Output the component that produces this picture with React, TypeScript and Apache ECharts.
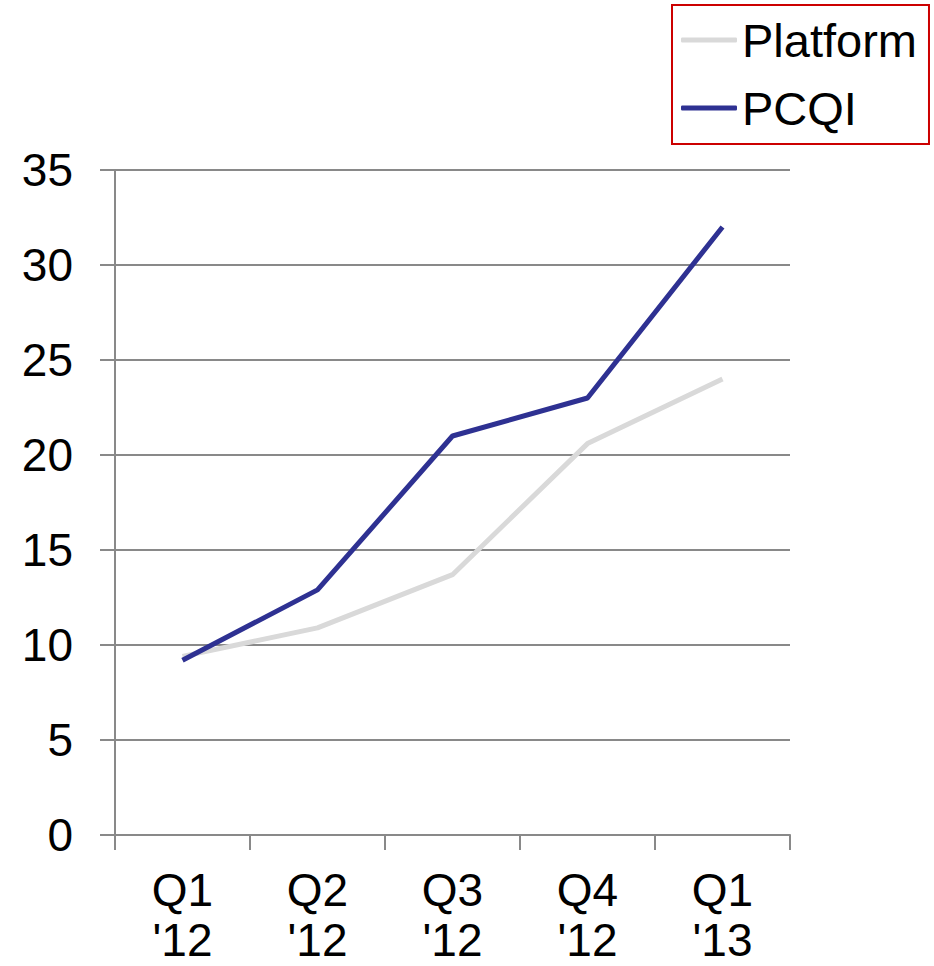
import React, { useEffect, useRef } from "react";
import * as echarts from "echarts";

const categories = ["Q1\n'12", "Q2\n'12", "Q3\n'12", "Q4\n'12", "Q1\n'13"];
const platform = [9.4, 10.9, 13.7, 20.6, 24];
const pcqi = [9.2, 12.9, 21, 23, 32];

export default function App() {
  const ref = useRef<HTMLDivElement>(null);
  useEffect(() => {
    const chart = echarts.init(ref.current!, null, { renderer: "svg" });
    const font = "Liberation Sans, Arial, sans-serif";
    chart.setOption({
      animation: false,
      textStyle: { fontFamily: font },
      grid: { left: 115, right: 144, top: 170, bottom: 131, containLabel: false, outerBoundsMode: "none" },
      legend: {
        orient: "vertical",
        left: 672,
        top: 5,
        borderColor: "#cc0000",
        borderWidth: 2,
        padding: [9, 12, 10, 9],
        itemGap: 16,
        itemWidth: 56,
        itemHeight: 5,
        icon: "roundRect",
        textStyle: { fontSize: 47, color: "#000", fontFamily: font, lineHeight: 52 },
        data: ["Platform", "PCQI"],
      },
      xAxis: {
        type: "category",
        data: categories,
        boundaryGap: true,
        axisLine: { lineStyle: { color: "#898989", width: 2 } },
        axisTick: { show: true, interval: 0, length: 15, lineStyle: { color: "#898989", width: 2 } },
        axisLabel: { fontSize: 46, color: "#000", lineHeight: 50, margin: 30, interval: 0, fontFamily: font },
        splitLine: { show: false },
      },
      yAxis: {
        type: "value",
        min: 0,
        max: 35,
        interval: 5,
        axisLine: { show: true, lineStyle: { color: "#898989", width: 2 } },
        axisTick: { show: true, length: 15, lineStyle: { color: "#898989", width: 2 } },
        axisLabel: { fontSize: 46, color: "#000", margin: 42, fontFamily: font },
        splitLine: { show: true, lineStyle: { color: "#898989", width: 2 } },
      },
      series: [
        {
          name: "Platform",
          type: "line",
          data: platform,
          symbol: "none",
          lineStyle: { color: "#d9d9d9", width: 5 },
          itemStyle: { color: "#d9d9d9" },
        },
        {
          name: "PCQI",
          type: "line",
          data: pcqi,
          symbol: "none",
          lineStyle: { color: "#2e3192", width: 5 },
          itemStyle: { color: "#2e3192" },
        },
      ],
    });
    return () => chart.dispose();
  }, []);
  return <div ref={ref} style={{ width: 934, height: 966, position: "absolute", left: 0, top: 0 }} />;
}
